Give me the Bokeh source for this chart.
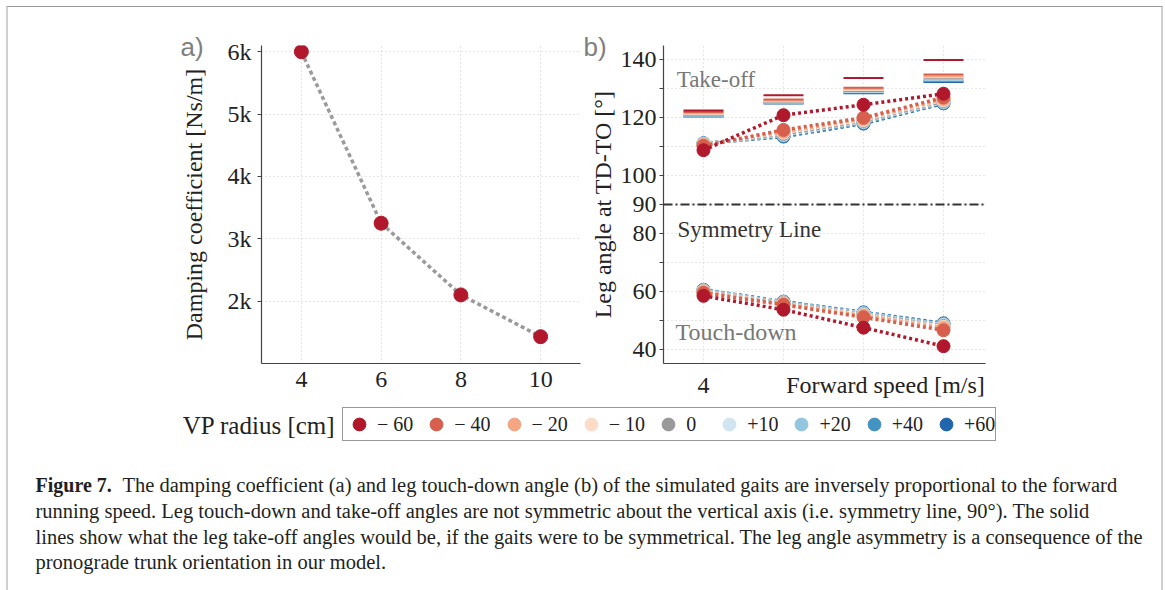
from bokeh.plotting import figure
from bokeh.layouts import column, row
from bokeh.models import (Range1d, FixedTicker, Label, Span, Legend, LegendItem, Title)
from bokeh.core.properties import value
from bokeh.embed import file_html
from bokeh.resources import INLINE

# ---------------- data ----------------
speeds = [4, 6, 8, 10]                       # forward speed [m/s]
damping = [6000, 3250, 2100, 1430]           # damping coefficient [Ns/m]

vp_radius = [-60, -40, -20, -10, 0, 10, 20, 40, 60]   # VP radius [cm]
vp_labels = ["\u2212 60", "\u2212 40", "\u2212 20", "\u2212 10", "0",
             "+10", "+20", "+40", "+60"]
vp_colors = ["#b2182b", "#d6604d", "#f4a582", "#fddbc7", "#999999",
             "#d1e5f0", "#92c5de", "#4393c3", "#2166ac"]

# leg take-off angle [deg], one row per VP radius
takeoff_angle = [
    [108.8, 120.9, 124.5, 128.3],
    [110.3, 115.8, 120.0, 127.0],
    [110.6, 115.2, 119.6, 126.5],
    [110.8, 114.8, 119.2, 126.1],
    [110.9, 114.4, 118.9, 125.8],
    [111.0, 114.2, 118.7, 125.6],
    [111.0, 114.0, 118.5, 125.4],
    [111.1, 113.8, 118.3, 125.2],
    [111.2, 113.5, 118.0, 125.0],
]
# leg touch-down angle [deg]
touchdown_angle = [
    [58.4, 53.6, 47.4, 41.0],
    [59.4, 55.3, 51.0, 46.5],
    [59.8, 55.6, 51.5, 47.3],
    [60.0, 55.8, 51.8, 47.7],
    [60.1, 56.0, 52.0, 48.0],
    [60.2, 56.1, 52.2, 48.3],
    [60.3, 56.2, 52.4, 48.5],
    [60.4, 56.3, 52.5, 48.7],
    [60.5, 56.4, 52.7, 48.9],
]
# take-off angle of a symmetric gait [deg]
symmetric_takeoff = [
    [122.5, 127.8, 133.8, 140.0],
    [122.0, 126.3, 130.4, 135.0],
    [121.6, 126.0, 130.0, 134.4],
    [121.2, 125.7, 129.6, 134.0],
    [121.0, 125.5, 129.3, 133.6],
    [120.9, 125.4, 129.1, 133.3],
    [120.8, 125.3, 128.9, 133.0],
    [120.6, 125.1, 128.7, 132.7],
    [120.4, 124.9, 128.5, 132.4],
]

SERIF = "Liberation Serif"
SANS = "Liberation Sans"
TEXT_PX = "24px"
AXIS_COLOR = "#444444"
GRID_COLOR = "#cccccc"
INK = "#222222"


def style_axes(p):
    p.outline_line_color = None
    for ax in (p.xaxis[0], p.yaxis[0]):
        ax.axis_line_color = AXIS_COLOR
        ax.axis_line_width = 1.2
        ax.major_tick_line_color = AXIS_COLOR
        ax.major_tick_in = 0
        ax.major_tick_out = 4
        ax.minor_tick_line_color = None
        ax.major_label_text_font = SERIF
        ax.major_label_text_font_size = TEXT_PX
        ax.major_label_text_color = INK
        ax.axis_label_text_font = SERIF
        ax.axis_label_text_font_size = TEXT_PX
        ax.axis_label_text_font_style = "normal"
        ax.axis_label_text_color = INK
    p.xaxis.major_tick_out = 0
    p.xaxis.major_label_standoff = 8
    for g in (p.xgrid[0], p.ygrid[0]):
        g.grid_line_color = GRID_COLOR
        g.grid_line_dash = "1 3"
        g.grid_line_width = 1


def panel_tag(p, text, offset):
    p.add_layout(Title(text=text, align="left", offset=offset, standoff=-32,
                       text_font=SANS, text_font_size="26px", text_font_style="normal",
                       text_color="#808080"), "above")


# ---------------- panel a ----------------
fa = figure(width=573, height=393, x_range=Range1d(3, 11), y_range=Range1d(1000, 6100),
            output_backend="svg", toolbar_location=None,
            min_border_left=253, min_border_right=1, min_border_top=38,
            min_border_bottom=32)
style_axes(fa)
fa.xaxis.ticker = FixedTicker(ticks=speeds)
fa.yaxis.ticker = FixedTicker(ticks=[2000, 3000, 4000, 5000, 6000])
fa.yaxis.major_label_overrides = {2000: "2k", 3000: "3k", 4000: "4k", 5000: "5k", 6000: "6k"}
fa.yaxis.major_label_standoff = 6
fa.yaxis.axis_label = "Damping coefficient [Ns/m]"
fa.yaxis.axis_label_standoff = 18

fa.line(speeds, damping, line_color="#9a9a9a", line_width=3.5, line_dash="4 3")
fa.scatter(speeds, damping, size=14, fill_color=vp_colors[0], line_color=vp_colors[0])
panel_tag(fa, "a)", -81)

# ---------------- panel b ----------------
fb = figure(width=580, height=393, x_range=Range1d(3, 11.05), y_range=Range1d(35, 145),
            output_backend="svg", toolbar_location=None,
            min_border_left=82, min_border_right=176, min_border_top=38,
            min_border_bottom=32)
style_axes(fb)
# the axis title sits on the tick-label row, right-aligned with the axis end
fb.xaxis.ticker = FixedTicker(ticks=speeds + [8.55])
fb.xaxis.major_label_overrides = {6: "", 8: "", 10: "", 8.55: "Forward speed [m/s]"}
fb.xgrid.ticker = FixedTicker(ticks=speeds)
fb.yaxis.ticker = FixedTicker(ticks=list(range(40, 150, 10)))
fb.yaxis.major_label_overrides = {50: "", 70: "", 110: "", 130: ""}
fb.yaxis.major_label_standoff = 3
fb.yaxis.axis_label = "Leg angle at TD-TO [\u00b0]"
fb.yaxis.axis_label_standoff = 2

fb.add_layout(Span(location=90, dimension="width", line_color="#333333",
                   line_width=2, line_dash="9 3 2 3"))

for i in reversed(range(len(vp_radius))):
    c = vp_colors[i]
    fb.segment(x0=[s - 0.5 for s in speeds], x1=[s + 0.5 for s in speeds],
               y0=symmetric_takeoff[i], y1=symmetric_takeoff[i], line_color=c, line_width=2)
for i in reversed(range(len(vp_radius))):
    c = vp_colors[i]
    for ys in (takeoff_angle[i], touchdown_angle[i]):
        fb.line(speeds, ys, line_color=c, line_width=3.5, line_dash="3 3")
        fb.scatter(speeds, ys, size=13, fill_color=c, line_color=c)

panel_tag(fb, "b)", -80)
fb.add_layout(Label(x=3.33, y=133.2, text="Take-off", text_font=SERIF,
                    text_font_size="23px", text_color="#777777", text_baseline="middle"))
fb.add_layout(Label(x=3.35, y=81.5, text="Symmetry Line", text_font=SERIF,
                    text_font_size="23px", text_color="#333333", text_baseline="middle"))
fb.add_layout(Label(x=3.3, y=45.8, text="Touch-down", text_font=SERIF,
                    text_font_size="24px", text_color="#777777", text_baseline="middle"))

# ---------------- legend and caption ----------------
fc = figure(width=1153, height=190, x_range=Range1d(0, 1153), y_range=Range1d(190, 0),
            output_backend="svg", toolbar_location=None,
            min_border_left=0, min_border_right=0, min_border_top=0, min_border_bottom=0)
fc.axis.visible = False
fc.grid.visible = False
fc.outline_line_color = None

items = []
for lab, c in zip(vp_labels, vp_colors):
    # off-screen point: the renderer only supplies the legend swatch
    r = fc.scatter(x=[-1000], y=[-1000], size=14, fill_color=c, line_color=c)
    items.append(LegendItem(label=lab, renderers=[r]))
leg = Legend(items=items, orientation="horizontal", location=(334, 149),
             glyph_width=32, glyph_height=32, label_standoff=2, spacing=7, padding=0,
             margin=0, border_line_color="#333333", border_line_width=1.3,
             label_text_font=SERIF, label_text_font_size="20px",
             label_text_color=INK, background_fill_alpha=1)
fc.add_layout(leg, "center")

fc.text(x=[327], y=[25], text=["VP radius [cm]"], text_font=value(SERIF),
        text_font_size=value("25px"), text_align="right", text_baseline="middle",
        text_color=INK)

caption_x = [27, 27, 27, 27]
caption_y = [84, 110, 136, 161]
caption_lines = [
    "The damping coefficient (a) and leg touch-down angle (b) of the simulated gaits are inversely proportional to the forward",
    "running speed. Leg touch-down and take-off angles are not symmetric about the vertical axis (i.e. symmetry line, 90\u00b0). The solid",
    "lines show what the leg take-off angles would be, if the gaits were to be symmetrical. The leg angle asymmetry is a consequence of the",
    "pronograde trunk orientation in our model.",
]
fc.text(x=[caption_x[0]], y=[caption_y[0]], text=["Figure 7."], text_font=value(SERIF),
        text_font_size=value("20px"), text_font_style="bold", text_baseline="middle",
        text_color="#231f20")
fc.text(x=[caption_x[0] + 87] + caption_x[1:], y=caption_y, text=caption_lines,
        text_font=value(SERIF), text_font_size=value("20.5px"), text_baseline="middle",
        text_color="#231f20")

layout = column(row(fa, fb, spacing=0), fc, spacing=0, margin=(6, 0, 0, 6),
                styles={"border-top": "1px solid #9a9a9a",
                        "border-left": "2px solid #cfcfcf",
                        "border-right": "2px solid #cfcfcf"})

open("out.html", "w").write(file_html(layout, INLINE))
